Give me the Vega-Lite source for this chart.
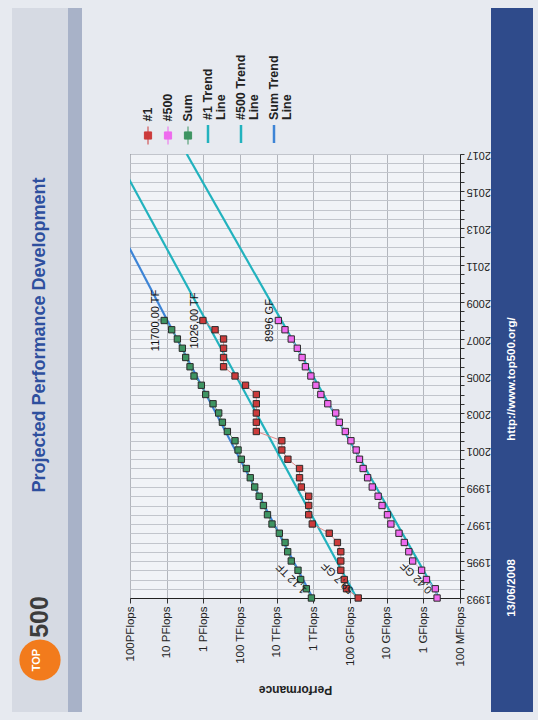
{
  "$schema": "https://vega.github.io/schema/vega-lite/v6.json",
  "background": "#e7eaf0",
  "padding": {"left": 12, "top": 8, "right": 5, "bottom": 8},
  "config": {"font": "Liberation Sans", "view": {"stroke": null}},
  "datasets": {
    "perf": [
      {"series": "#1", "year": 1993, "gflops": 59.7}, {"series": "#1", "year": 1993.5, "gflops": 124.5}, {"series": "#1", "year": 1994, "gflops": 143.4}, {"series": "#1", "year": 1994.5, "gflops": 178}, {"series": "#1", "year": 1995, "gflops": 178}, {"series": "#1", "year": 1995.5, "gflops": 178}, {"series": "#1", "year": 1996, "gflops": 220.4}, {"series": "#1", "year": 1996.5, "gflops": 368.2}, {"series": "#1", "year": 1997, "gflops": 1068}, {"series": "#1", "year": 1997.5, "gflops": 1338}, {"series": "#1", "year": 1998, "gflops": 1338}, {"series": "#1", "year": 1998.5, "gflops": 1338}, {"series": "#1", "year": 1999, "gflops": 2121}, {"series": "#1", "year": 1999.5, "gflops": 2379}, {"series": "#1", "year": 2000, "gflops": 2379}, {"series": "#1", "year": 2000.5, "gflops": 4938}, {"series": "#1", "year": 2001, "gflops": 7226}, {"series": "#1", "year": 2001.5, "gflops": 7226}, {"series": "#1", "year": 2002, "gflops": 35860}, {"series": "#1", "year": 2002.5, "gflops": 35860}, {"series": "#1", "year": 2003, "gflops": 35860}, {"series": "#1", "year": 2003.5, "gflops": 35860}, {"series": "#1", "year": 2004, "gflops": 35860}, {"series": "#1", "year": 2004.5, "gflops": 70720}, {"series": "#1", "year": 2005, "gflops": 136800}, {"series": "#1", "year": 2005.5, "gflops": 280600}, {"series": "#1", "year": 2006, "gflops": 280600}, {"series": "#1", "year": 2006.5, "gflops": 280600}, {"series": "#1", "year": 2007, "gflops": 280600}, {"series": "#1", "year": 2007.5, "gflops": 478200}, {"series": "#1", "year": 2008, "gflops": 1026000},
      {"series": "#500", "year": 1993, "gflops": 0.422}, {"series": "#500", "year": 1993.5, "gflops": 0.472}, {"series": "#500", "year": 1994, "gflops": 0.822}, {"series": "#500", "year": 1994.5, "gflops": 1.114}, {"series": "#500", "year": 1995, "gflops": 1.955}, {"series": "#500", "year": 1995.5, "gflops": 2.489}, {"series": "#500", "year": 1996, "gflops": 3.306}, {"series": "#500", "year": 1996.5, "gflops": 4.62}, {"series": "#500", "year": 1997, "gflops": 7.67}, {"series": "#500", "year": 1997.5, "gflops": 9.51}, {"series": "#500", "year": 1998, "gflops": 13.39}, {"series": "#500", "year": 1998.5, "gflops": 17.1}, {"series": "#500", "year": 1999, "gflops": 24.7}, {"series": "#500", "year": 1999.5, "gflops": 33.1}, {"series": "#500", "year": 2000, "gflops": 43.8}, {"series": "#500", "year": 2000.5, "gflops": 55.1}, {"series": "#500", "year": 2001, "gflops": 67.78}, {"series": "#500", "year": 2001.5, "gflops": 94.3}, {"series": "#500", "year": 2002, "gflops": 134.3}, {"series": "#500", "year": 2002.5, "gflops": 195.8}, {"series": "#500", "year": 2003, "gflops": 245.1}, {"series": "#500", "year": 2003.5, "gflops": 403.4}, {"series": "#500", "year": 2004, "gflops": 624}, {"series": "#500", "year": 2004.5, "gflops": 850.6}, {"series": "#500", "year": 2005, "gflops": 1166}, {"series": "#500", "year": 2005.5, "gflops": 1646}, {"series": "#500", "year": 2006, "gflops": 2026}, {"series": "#500", "year": 2006.5, "gflops": 2737}, {"series": "#500", "year": 2007, "gflops": 4005}, {"series": "#500", "year": 2007.5, "gflops": 5929}, {"series": "#500", "year": 2008, "gflops": 8996},
      {"series": "Sum", "year": 1993, "gflops": 1128}, {"series": "Sum", "year": 1993.5, "gflops": 1550}, {"series": "Sum", "year": 1994, "gflops": 2215}, {"series": "Sum", "year": 1994.5, "gflops": 2620}, {"series": "Sum", "year": 1995, "gflops": 4000}, {"series": "Sum", "year": 1995.5, "gflops": 5000}, {"series": "Sum", "year": 1996, "gflops": 5900}, {"series": "Sum", "year": 1996.5, "gflops": 8450}, {"series": "Sum", "year": 1997, "gflops": 13400}, {"series": "Sum", "year": 1997.5, "gflops": 17800}, {"series": "Sum", "year": 1998, "gflops": 23000}, {"series": "Sum", "year": 1998.5, "gflops": 30000}, {"series": "Sum", "year": 1999, "gflops": 39700}, {"series": "Sum", "year": 1999.5, "gflops": 52500}, {"series": "Sum", "year": 2000, "gflops": 67000}, {"series": "Sum", "year": 2000.5, "gflops": 91800}, {"series": "Sum", "year": 2001, "gflops": 113000}, {"series": "Sum", "year": 2001.5, "gflops": 136800}, {"series": "Sum", "year": 2002, "gflops": 221000}, {"series": "Sum", "year": 2002.5, "gflops": 302000}, {"series": "Sum", "year": 2003, "gflops": 381000}, {"series": "Sum", "year": 2003.5, "gflops": 544000}, {"series": "Sum", "year": 2004, "gflops": 863000}, {"series": "Sum", "year": 2004.5, "gflops": 1132000}, {"series": "Sum", "year": 2005, "gflops": 1795000}, {"series": "Sum", "year": 2005.5, "gflops": 2307000}, {"series": "Sum", "year": 2006, "gflops": 3027000}, {"series": "Sum", "year": 2006.5, "gflops": 3733000}, {"series": "Sum", "year": 2007, "gflops": 5105000}, {"series": "Sum", "year": 2007.5, "gflops": 7295000}, {"series": "Sum", "year": 2008, "gflops": 11700000}
    ],
    "trend": [
      {"series": "#1 Trend Line", "year": 1993, "gflops": 65.8}, {"series": "#1 Trend Line", "year": 2017, "gflops": 251000000},
      {"series": "#500 Trend Line", "year": 1993, "gflops": 0.37}, {"series": "#500 Trend Line", "year": 2017, "gflops": 2840000},
      {"series": "Sum Trend Line", "year": 1993, "gflops": 1042}, {"series": "Sum Trend Line", "year": 2017, "gflops": 2280000000}
    ],
    "notes": [
      {"series": "Sum", "year": 2008, "gflops": 11700000, "label": "11700,00 TF", "end": "last"},
      {"series": "#1", "year": 2008, "gflops": 1026000, "label": "1026,00 TF", "end": "last"},
      {"series": "#500", "year": 2008, "gflops": 8996, "label": "8996 GF", "end": "last"},
      {"series": "Sum", "year": 1993, "gflops": 1128, "label": "1,12 TF", "end": "first"},
      {"series": "#1", "year": 1993, "gflops": 59.7, "label": "59,7 GF", "end": "first"},
      {"series": "#500", "year": 1993, "gflops": 0.422, "label": "0,42 GF", "end": "first"}
    ],
    "leftitems": [
      {"item": "title", "part": "title", "text": "Projected Performance Development"},
      {"item": "logo", "part": "disc", "text": ""},
      {"item": "logo", "part": "top", "text": "TOP"},
      {"item": "logo", "part": "num", "text": "500"}
    ],
    "footer": [
      {"item": "url", "text": "http://www.top500.org/"},
      {"item": "date", "text": "13/06/2008"}
    ]
  },
  "resolve": {"scale": {"color": "independent", "fill": "independent", "stroke": "independent"}, "legend": {"color": "independent", "fill": "independent", "stroke": "independent"}},
  "spacing": 0,
  "hconcat": [
    {
      "spacing": 41,
      "resolve": {"scale": {"color": "independent", "fill": "independent", "stroke": "independent"}, "legend": {"color": "independent", "fill": "independent", "stroke": "independent"}},
      "hconcat": [
        {
          "spacing": 0,
          "hconcat": [
            {
              "width": 56, "height": 704,
              "view": {"fill": "#d6dae3", "stroke": null},
              "data": {"name": "leftitems"},
              "encoding": {"y": {"field": "item", "type": "nominal", "scale": {"type": "point", "domain": ["title", "logo"], "range": [327, 652], "padding": 0}, "axis": null}},
              "layer": [
                {"transform": [{"filter": "datum.part == 'title'"}], "mark": {"type": "text", "angle": 270, "fontSize": 18, "fontWeight": "bold", "color": "#2e4f9e", "align": "center", "baseline": "middle"}, "encoding": {"text": {"field": "text"}}},
                {"transform": [{"filter": "datum.part == 'disc'"}], "mark": {"type": "point", "shape": "circle", "filled": true, "size": 1700, "color": "#f27b1c", "opacity": 1}},
                {"transform": [{"filter": "datum.part == 'top'"}], "mark": {"type": "text", "angle": 270, "fontSize": 11, "fontWeight": "bold", "color": "#ffffff", "align": "center", "baseline": "middle", "dy": -3}, "encoding": {"text": {"field": "text"}}},
                {"transform": [{"filter": "datum.part == 'num'"}], "mark": {"type": "text", "angle": 270, "fontSize": 25, "fontWeight": "bold", "color": "#3c3c3c", "align": "center", "baseline": "middle", "dx": 43}, "encoding": {"text": {"field": "text"}}}
              ]
            },
            {
              "width": 14, "height": 704,
              "view": {"fill": "#a8b2c8", "stroke": null},
              "data": {"values": []},
              "mark": "point"
            }
          ]
        },
        {
          "spacing": 0,
          "resolve": {"scale": {"color": "independent", "fill": "independent", "stroke": "independent"}, "legend": {"color": "independent", "fill": "independent", "stroke": "independent"}},
          "vconcat": [
            {
              "width": 330, "height": 125,
              "view": {"fill": null, "stroke": null},
              "data": {"values": []},
              "mark": "point"
            },
            {
              "width": 330, "height": 444,
              "view": {"fill": "#f1f3f7", "stroke": "#333333", "strokeWidth": 1},
              "encoding": {
                "x": {"field": "gflops", "type": "quantitative",
                  "scale": {"type": "log", "domain": [0.1, 100000000], "reverse": true, "nice": false},
                  "axis": {"orient": "bottom", "values": [0.1, 1, 10, 100, 1000, 10000, 100000, 1000000, 10000000, 100000000],
                    "labelExpr": "['100 MFlops','1 GFlops','10 GFlops','100 GFlops','1 TFlops','10 TFlops','100 TFlops','1 PFlops','10 PFlops','100PFlops'][round(log(datum.value)/LN10) + 1]",
                    "labelAngle": 270, "labelFontSize": 11.5, "labelColor": "#222222", "labelPadding": 3, "labelOverlap": false, "labelFlush": false,
                    "tickSize": 5, "tickColor": "#333333", "domainColor": "#222222", "domainWidth": 1.2,
                    "grid": true, "gridColor": "#b3b6bd", "gridWidth": 1,
                    "title": "Performance", "titleAngle": 180, "titleBaseline": "bottom", "titleFontSize": 12, "titleFontWeight": "bold", "titleColor": "#222222", "titlePadding": 16}},
                "y": {"field": "year", "type": "quantitative",
                  "scale": {"domain": [1993, 2017], "nice": false, "zero": false},
                  "axis": {"orient": "right", "values": [1993,1993.5,1994,1994.5,1995,1995.5,1996,1996.5,1997,1997.5,1998,1998.5,1999,1999.5,2000,2000.5,2001,2001.5,2002,2002.5,2003,2003.5,2004,2004.5,2005,2005.5,2006,2006.5,2007,2007.5,2008,2008.5,2009,2009.5,2010,2010.5,2011,2011.5,2012,2012.5,2013,2013.5,2014,2014.5,2015,2015.5,2016,2016.5,2017],
                    "labelExpr": "datum.value % 2 == 1 ? '' + datum.value : ''",
                    "labelAngle": 180, "labelAlign": "right", "labelBaseline": "middle", "labelFontSize": 11, "labelColor": "#222222", "labelPadding": 2, "labelOverlap": false, "labelFlush": false, "labelBound": false,
                    "tickSize": 4, "tickColor": "#333333", "domainColor": "#222222",
                    "grid": true, "gridColor": "#c2c5cc", "gridWidth": 1, "title": null}}
              },
              "layer": [
                {
                  "data": {"name": "trend"},
                  "mark": {"type": "line", "clip": true, "strokeWidth": 2.2},
                  "encoding": {
                    "order": {"field": "year"},
                    "color": {"field": "series", "type": "nominal",
                      "scale": {"domain": ["#1", "#500", "Sum", "#1 Trend Line", "#500 Trend Line", "Sum Trend Line"], "range": ["#cc3b3b", "#ee6aee", "#3e9462", "#22b2be", "#22b2be", "#3d84d6"]},
                      "legend": {
                        "orient": "none", "legendX": 18, "legendY": -20, "direction": "horizontal",
                        "title": null, "padding": 0, "columnPadding": 6,
                        "labelFontSize": 12.5, "labelFontWeight": "bold", "labelColor": "#222222", "labelLimit": 300,
                        "labelExpr": "datum.label == '#1 Trend Line' ? ['#1 Trend', 'Line'] : datum.label == '#500 Trend Line' ? ['#500 Trend', 'Line'] : datum.label == 'Sum Trend Line' ? ['Sum Trend', 'Line'] : datum.label",
                        "encoding": {
                          "symbols": {
                            "x": {"value": 0}, "y": {"value": 0},
                            "shape": {"value": {"expr": "indexof(['#1','#500','Sum'], datum.value) >= 0 ? 'M0,-1V1M-0.4,-0.4H0.4V0.4H-0.4Z' : 'M0,-1V1'"}},
                            "size": {"value": 324},
                            "fill": {"value": {"expr": "datum.value == '#1' ? '#cc3b3b' : datum.value == '#500' ? '#ee6aee' : datum.value == 'Sum' ? '#3e9462' : 'transparent'"}},
                            "stroke": {"value": {"expr": "datum.value == '#1' ? '#8c2a2a' : datum.value == '#500' ? '#a040a0' : datum.value == 'Sum' ? '#2b6644' : datum.value == 'Sum Trend Line' ? '#3d84d6' : '#22b2be'"}},
                            "strokeWidth": {"value": {"expr": "indexof(['#1','#500','Sum'], datum.value) >= 0 ? 1 : 2.5"}},
                            "opacity": {"value": 1}
                          },
                          "labels": {
                            "x": {"value": 0}, "y": {"value": -14},
                            "angle": {"value": 270}, "align": {"value": "left"}, "baseline": {"value": "alphabetic"},
                            "dy": {"value": 4}, "lineHeight": {"value": 13}
                          }
                        }
                      }}
                  }
                },
                {
                  "data": {"name": "perf"},
                  "mark": {"type": "line", "strokeWidth": 1},
                  "encoding": {
                    "order": {"field": "year"},
                    "stroke": {"field": "series", "type": "nominal", "scale": {"domain": ["#1", "#500", "Sum"], "range": ["#e08a8a", "#e596e5", "#5fa87a"]}, "legend": null}
                  }
                },
                {
                  "data": {"name": "perf"},
                  "mark": {"type": "point", "shape": "square", "filled": true, "size": 40, "stroke": "#2a2a2a", "strokeWidth": 1, "opacity": 1},
                  "encoding": {
                    "fill": {"field": "series", "type": "nominal", "scale": {"domain": ["#1", "#500", "Sum"], "range": ["#cc3b3b", "#ee6aee", "#3e9462"]}, "legend": null}
                  }
                },
                {
                  "data": {"name": "notes"},
                  "transform": [{"filter": "datum.end == 'last'"}],
                  "mark": {"type": "text", "angle": 270, "align": "center", "baseline": "alphabetic", "dy": -5, "fontSize": 11, "color": "#111111"},
                  "encoding": {"text": {"field": "label"}}
                },
                {
                  "data": {"name": "notes"},
                  "transform": [{"filter": "datum.end == 'first'"}],
                  "mark": {"type": "text", "angle": 225, "align": "left", "baseline": "middle", "dx": 9, "fontSize": 11, "color": "#222222"},
                  "encoding": {"text": {"field": "label"}}
                }
              ]
            }
          ]
        }
      ]
    },
    {
      "width": 42, "height": 704,
      "view": {"fill": "#2f4b8b", "stroke": null},
      "data": {"name": "footer"},
      "mark": {"type": "text", "angle": 270, "color": "#ffffff", "fontSize": 11.5, "fontWeight": "bold", "align": "center", "baseline": "middle"},
      "encoding": {
        "y": {"field": "item", "type": "nominal", "scale": {"type": "point", "domain": ["url", "date"], "range": [371, 580], "padding": 0}, "axis": null},
        "text": {"field": "text"}
      }
    }
  ]
}
